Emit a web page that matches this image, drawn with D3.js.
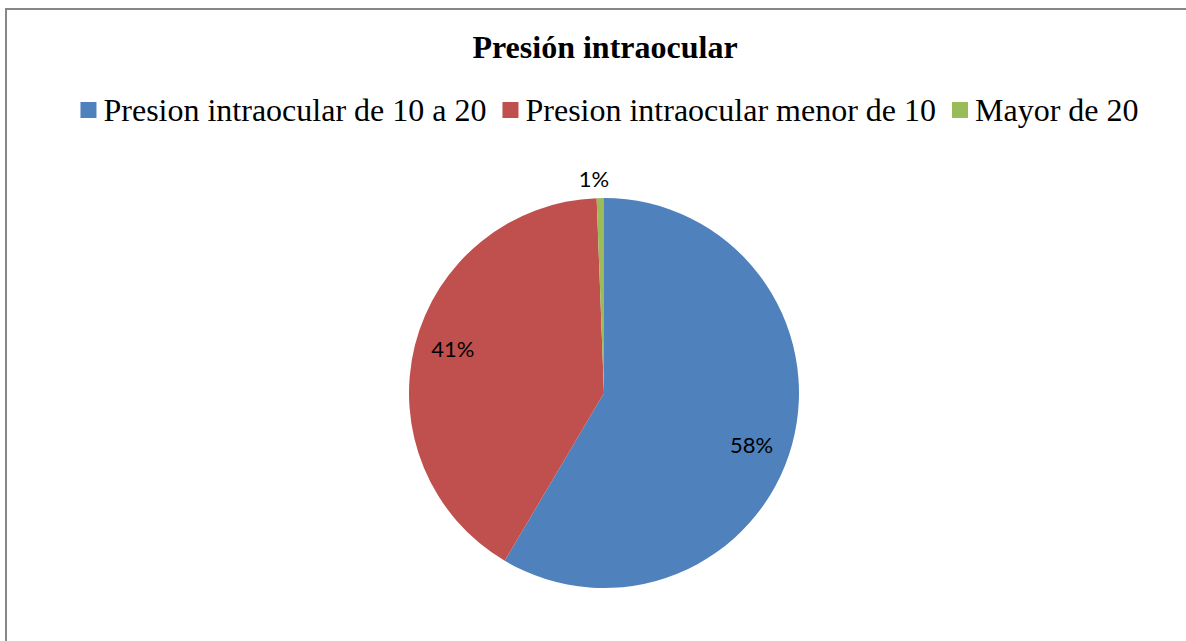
<!DOCTYPE html>
<html>
<head>
<meta charset="utf-8">
<script src="https://cdn.jsdelivr.net/npm/d3@7"></script>
<style>
  html, body { margin: 0; padding: 0; background: #fff; }
  svg { display: block; }
</style>
</head>
<body>
<svg id="chart" width="1186" height="641"></svg>
<script>
const title = "Presión intraocular";
const categories = ["Presion intraocular de 10 a 20", "Presion intraocular menor de 10", "Mayor de 20"];
const values = [58.5, 40.9, 0.6];
const labels = ["58%", "41%", "1%"];
const colors = ["#4F81BD", "#C0504D", "#9BBB59"];

const svg = d3.select("#chart");
const W = 1186, H = 641;

// frame
svg.append("rect")
  .attr("x", 6).attr("y", 9)
  .attr("width", W + 20).attr("height", H + 20)
  .attr("fill", "#fff")
  .attr("stroke", "#878787").attr("stroke-width", 2);

// title
svg.append("text")
  .attr("x", 605).attr("y", 58)
  .attr("text-anchor", "middle")
  .attr("font-family", "'Liberation Serif', 'Times New Roman', serif")
  .attr("font-weight", "bold")
  .attr("font-size", 32)
  .attr("fill", "#000")
  .text(title);

// legend
const legend = svg.append("g");
const fs = 32, sq = 16, gapSq = 7, gapItem = 16;
let x = 0;
const items = categories.map((c, i) => {
  const g = legend.append("g");
  g.append("rect").attr("x", 0).attr("y", -sq - 3).attr("width", sq).attr("height", sq).attr("fill", colors[i]);
  const t = g.append("text").attr("x", sq + gapSq).attr("y", 0)
    .attr("font-family", "'Liberation Serif', 'Times New Roman', serif")
    .attr("font-size", fs).attr("fill", "#000").text(c);
  const w = sq + gapSq + t.node().getComputedTextLength();
  const item = { g, x, w };
  x += w + gapItem;
  return item;
});
const totalW = x - gapItem;
const lx0 = 609.5 - totalW / 2;
items.forEach(it => it.g.attr("transform", `translate(${lx0 + it.x},121)`));

// pie
const cx = 604, cy = 393, r = 195;
const pie = d3.pie().sort(null).value(d => d);
const arcs = pie(values);
const arc = d3.arc().innerRadius(0).outerRadius(r);
const pg = svg.append("g").attr("transform", `translate(${cx},${cy})`);
pg.selectAll("path").data(arcs).join("path")
  .attr("d", arc)
  .attr("fill", (d, i) => colors[i]);

// data labels
const labelArcInner = d3.arc().innerRadius(r * 0.8).outerRadius(r * 0.8);
const labelPos = [
  (d) => { const p = labelArcInner.centroid(d); return [p[0] - 3, p[1] + 11]; },
  (d) => { const p = labelArcInner.centroid(d); return [p[0], p[1] - 5]; },
  (d) => { const a = (d.startAngle + d.endAngle) / 2; return [Math.sin(a) * (r + 19) - 6, -Math.cos(a) * (r + 19)]; }
];
pg.selectAll("text.lbl").data(arcs).join("text")
  .attr("class", "lbl")
  .attr("transform", (d, i) => { const p = labelPos[i](d); return `translate(${p[0]},${p[1]})`; })
  .attr("text-anchor", "middle")
  .attr("dy", "0.35em")
  .attr("font-family", "Lato, 'Open Sans', sans-serif")
  .attr("font-size", 22)
  .attr("fill", "#000")
  .text((d, i) => labels[i]);
</script>
</body>
</html>
